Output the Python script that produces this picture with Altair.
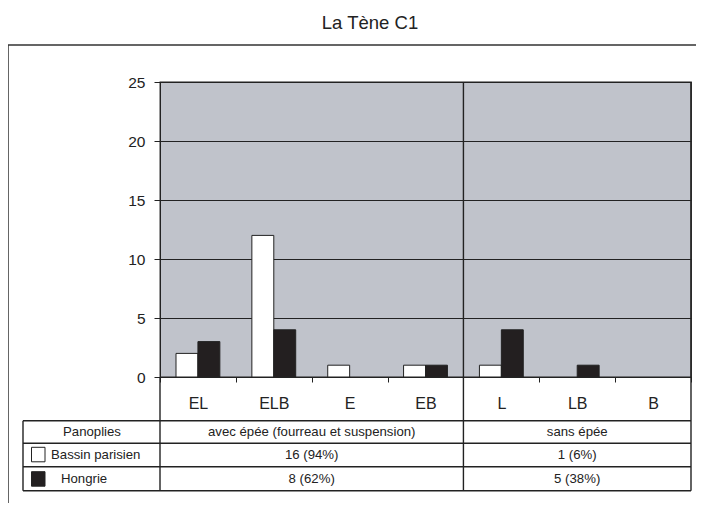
import altair as alt
import pandas as pd

# ---------------- data ----------------
categories = ["EL", "ELB", "E", "EB", "L", "LB", "B"]
bassin_parisien = [2, 12, 1, 1, 1, 0, 0]
hongrie = [3, 4, 0, 1, 4, 1, 0]
series = ["Bassin parisien", "Hongrie"]
series_colors = ["#ffffff", "#231f20"]
y_ticks = [0, 5, 10, 15, 20, 25]
title_text = "La Tène C1"
table_first_col = ["Panoplies", "Bassin parisien", "Hongrie"]
group_headers = ["avec épée (fourreau et suspension)", "sans épée"]
bassin_totals = ["16 (94%)", "1 (6%)"]
hongrie_totals = ["8 (62%)", "5 (38%)"]

rows = []
for c, b, h in zip(categories, bassin_parisien, hongrie):
    rows.append({"cat": c, "series": series[0], "value": b})
    rows.append({"cat": c, "series": series[1], "value": h})
df = pd.DataFrame(rows)

# ---------------- layout ----------------
W, H = 531, 295
FONT = "Liberation Sans"
INK = "#222222"
one = pd.DataFrame({"k": [0]})

# table row lines (pixel offsets relative to plot origin)
T_TOP, T_R1, T_R2, T_BOT = 338.7, 361.3, 384.7, 408.7
T_LEFT = -137

xscale = alt.Scale(domain=categories, paddingInner=0, paddingOuter=0)

bars = alt.Chart(df).mark_bar(stroke=INK, strokeWidth=1).encode(
    x=alt.X("cat:N", scale=xscale, sort=categories,
            axis=alt.Axis(title=None, labelAngle=0, tickBand="extent", tickSize=5,
                          tickColor=INK, domainColor=INK, labelFontSize=16,
                          labelFont=FONT, labelColor=INK, labelPadding=13)),
    xOffset=alt.XOffset("series:N", sort=series,
                        scale=alt.Scale(domain=series, paddingInner=0, paddingOuter=0.73)),
    y=alt.Y("value:Q", scale=alt.Scale(domain=[0, 25], nice=False),
            axis=alt.Axis(values=y_ticks, title=None, grid=True, gridColor=INK,
                          gridOpacity=1, domainColor=INK, tickColor=INK, tickSize=6,
                          labelFontSize=15.5, labelFont=FONT, labelColor=INK,
                          labelPadding=9)),
    color=alt.Color("series:N", scale=alt.Scale(domain=series, range=series_colors),
                    legend=None),
).transform_filter("datum.value > 0")


def rule(x, y, x2=None, y2=None, width=1.4, color=INK):
    enc = {"x": alt.value(x), "y": alt.value(y)}
    if x2 is not None:
        enc["x2"] = alt.value(x2)
    if y2 is not None:
        enc["y2"] = alt.value(y2)
    return alt.Chart(one).mark_rule(color=color, strokeWidth=width).encode(**enc)


layers = [bars]

# vertical lines extending into the table
layers.append(rule(0, H, y2=T_BOT))
layers.append(rule(W, 0, y2=T_BOT))
layers.append(
    alt.Chart(one).mark_rule(color=INK, strokeWidth=1.4).encode(
        x=alt.XDatum("L", type="nominal", bandPosition=0),
        y=alt.value(0), y2=alt.value(T_BOT))
)
# table horizontal lines + left border
for yy in [T_TOP, T_R1, T_R2, T_BOT]:
    layers.append(rule(T_LEFT, yy, x2=W))
layers.append(rule(T_LEFT, T_TOP, y2=T_BOT))

# outer frame
layers.append(
    alt.Chart(one).mark_rect(fill=None, stroke="#333333", strokeWidth=1.5).encode(
        x=alt.value(-152), y=alt.value(-37), x2=alt.value(W + 40), y2=alt.value(H + 220))
)

# title
layers.append(
    alt.Chart(one).mark_text(text=title_text, fontSize=18.5, font=FONT, color=INK,
                             align="center", baseline="alphabetic").encode(
        x=alt.value(210), y=alt.value(-53))
)


def txt(text, x, y, align="center", size=13.2):
    return alt.Chart(one).mark_text(text=text, fontSize=size, font=FONT, color=INK,
                                    align=align, baseline="middle").encode(x=x, y=alt.value(y))


ROW1 = (T_TOP + T_R1) / 2
ROW2 = (T_R1 + T_R2) / 2
ROW3 = (T_R2 + T_BOT) / 2

layers.append(txt(table_first_col[0], alt.value(-68), ROW1))
layers.append(txt(table_first_col[1], alt.value(-109), ROW2, align="left"))
layers.append(txt(table_first_col[2], alt.value(-99), ROW3, align="left"))

avec_x = alt.XDatum("E", type="nominal", bandPosition=0)
sans_x = alt.XDatum("LB", type="nominal", bandPosition=0.5)
layers.append(txt(group_headers[0], avec_x, ROW1))
layers.append(txt(group_headers[1], sans_x, ROW1))
layers.append(txt(bassin_totals[0], avec_x, ROW2))
layers.append(txt(bassin_totals[1], sans_x, ROW2))
layers.append(txt(hongrie_totals[0], avec_x, ROW3))
layers.append(txt(hongrie_totals[1], sans_x, ROW3))

# legend swatches in the table
for i, s in enumerate(series):
    y0 = [365.3, 389.7][i]
    layers.append(
        alt.Chart(pd.DataFrame({"series": [s]})).mark_rect(stroke=INK, strokeWidth=1).encode(
            x=alt.value(-128.5), x2=alt.value(-115), y=alt.value(y0), y2=alt.value(y0 + 14.5),
            color=alt.Color("series:N", scale=alt.Scale(domain=series, range=series_colors),
                            legend=None))
    )

chart = alt.layer(*layers).properties(
    width=W, height=H,
    autosize=alt.AutoSizeParams(type="none"),
    padding={"left": 152, "top": 74, "right": 5, "bottom": 126},
    background="#ffffff",
).configure_view(
    fill="#c0c3cb", stroke=INK, strokeWidth=1.3
)

chart.save("out.html", embed_options={"renderer": "svg", "actions": False})
